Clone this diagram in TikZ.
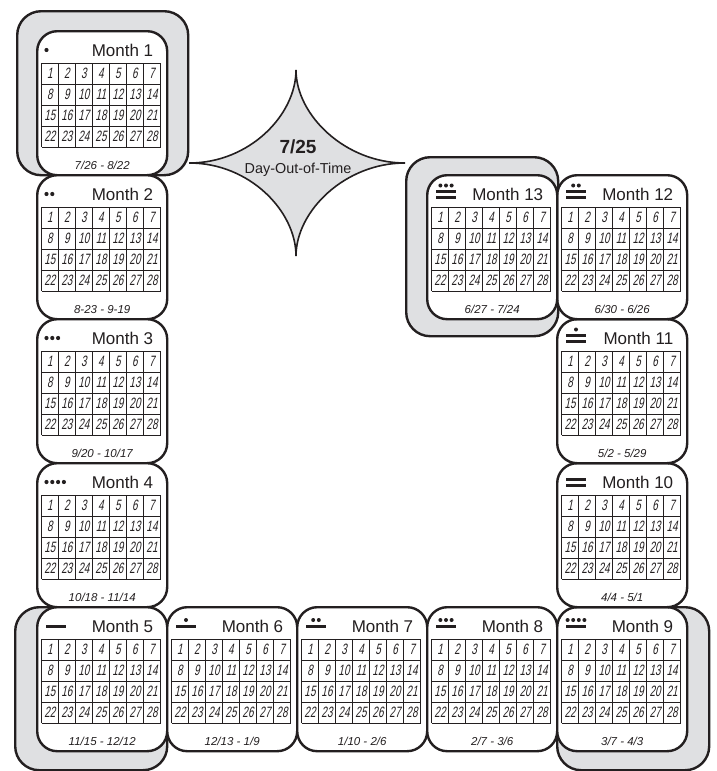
\documentclass[tikz,border=0pt]{standalone}
\usepackage{fontspec}
\setmainfont{Liberation Sans}
\newfontfamily\daynumfont[FakeStretch=0.66,FakeSlant=0.2]{Liberation Sans}
\usepackage{tikz}
\usetikzlibrary{calc}
\definecolor{calink}{HTML}{231F20}
\definecolor{calgray}{HTML}{DFE0E2}

\tikzset{
  card/.style={draw=calink, line width=2.4pt, rounded corners=20pt, fill=white,
               minimum width=130pt, minimum height=144pt, inner sep=0pt,
               anchor=north west},
  shadowbox/.style={draw=calink, line width=2.4pt, rounded corners=24pt,
                    fill=calgray, inner sep=0pt, anchor=north west},
  monthlabel/.style={font=\fontsize{17}{20}\selectfont, text=calink,
                     inner sep=0pt, anchor=base east},
  rangelabel/.style={font=\itshape\fontsize{11.5}{13}\selectfont, text=calink,
                     inner sep=0pt, anchor=base},
  daycell/.style={font=\daynumfont\fontsize{15}{16}\selectfont, text=calink,
                  inner sep=0pt},
  gridline/.style={draw=calink, line width=0.9pt},
  link/.style={draw=calink, line width=2pt},
  starshape/.style={draw=calink, line width=1.6pt, fill=calgray}
}

% Mayan numeral: node, bars, dots
\newcommand{\mayan}[3]{%
  \ifcase#2\relax
    \foreach \k in {1,...,#3}
      \fill[calink] ([shift={({10.5+5.8*(\k-1)},20)}]#1.north west) circle (2.1pt);
  \or
    \fill[calink] ([shift={(10,18.5)}]#1.north west) rectangle ++(20,3.2);
    \ifnum#3>0
      \foreach \k in {1,...,#3} {
        \pgfmathsetmacro{\dx}{20+5.6*(\k-(#3+1)/2)}
        \fill[calink] ([shift={(\dx,14)}]#1.north west) circle (2pt);
      }
    \fi
  \or
    \fill[calink] ([shift={(10,16)}]#1.north west) rectangle ++(20,3.2);
    \fill[calink] ([shift={(10,21.5)}]#1.north west) rectangle ++(20,3.2);
    \ifnum#3>0
      \foreach \k in {1,...,#3} {
        \pgfmathsetmacro{\dx}{20+5.6*(\k-(#3+1)/2)}
        \fill[calink] ([shift={(\dx,11.5)}]#1.north west) circle (2pt);
      }
    \fi
  \fi}

% card: name, x, y, month, dates, bars, dots
\newcommand{\monthcard}[7]{%
  \node[card] (#1) at (#2,#3) {};
  \node[monthlabel] (#1t) at ([shift={(-15,26)}]#1.north east) {Month #4};
  \foreach \c in {0,...,7}
    \draw[gridline] ([shift={({5.5+17*\c},33)}]#1.north west) -- ++(0,84);
  \foreach \r in {0,...,4}
    \draw[gridline] ([shift={(5.5,{33+21*\r})}]#1.north west) -- ++(119,0);
  \foreach \r in {0,...,3}
    \foreach \c in {1,...,7} {
      \pgfmathtruncatemacro{\dnum}{7*\r+\c}
      \node[daycell] at ([shift={({17*\c-3},{43.5+21*\r})}]#1.north west) {\dnum};
    }
  \node[rangelabel] (#1r) at ([shift={(0,-7)}]#1.south) {#5};
  \mayan{#1}{#6}{#7}}

\begin{document}
\begin{tikzpicture}[x=1pt, y=-1pt]
  \useasboundingbox (0,0) rectangle (717,771);

  % grey backings
  \node[shadowbox, minimum width=171pt, minimum height=164pt] (s1) at (16,10) {};
  \node[shadowbox, minimum width=152pt, minimum height=179pt] (s13) at (405,156) {};
  \node[shadowbox, minimum width=152pt, minimum height=163pt] (s5) at (14,606) {};
  \node[shadowbox, minimum width=152pt, minimum height=163pt] (s9) at (556,606) {};

  % day out of time
  \coordinate (dotc) at (296,163);
  \coordinate (startop) at (296,70);
  \coordinate (starbot) at (296,256);
  \coordinate (starleft) at (dotc -| s1.east);
  \coordinate (starright) at (dotc -| s13.west);
  \draw[link] (starleft) -- (starright);
  \draw[starshape] (starleft) .. controls +(60,0) and +(0,45) .. (startop)
    .. controls +(0,45) and +(-60,0) .. (starright)
    .. controls +(-60,0) and +(0,-45) .. (starbot)
    .. controls +(0,-45) and +(60,0) .. (starleft) -- cycle;
  \node[font=\bfseries\fontsize{19}{22}\selectfont, text=calink, anchor=base,
        inner sep=0pt] (dotdate) at (298,153) {7/25};
  \node[font=\fontsize{14.4}{16}\selectfont, text=calink, anchor=base,
        inner sep=0pt] (dotname) at (298,173) {Day-Out-of-Time};

  % months
  \monthcard{m1}{36}{30}{1}{7/26 - 8/22}{0}{1}
  \monthcard{m2}{36}{174}{2}{8-23 - 9-19}{0}{2}
  \monthcard{m3}{36}{318}{3}{9/20 - 10/17}{0}{3}
  \monthcard{m4}{36}{462}{4}{10/18 - 11/14}{0}{4}
  \monthcard{m5}{36}{606}{5}{11/15 - 12/12}{1}{0}
  \monthcard{m6}{166}{606}{6}{12/13 - 1/9}{1}{1}
  \monthcard{m7}{296}{606}{7}{1/10 - 2/6}{1}{2}
  \monthcard{m8}{426}{606}{8}{2/7 - 3/6}{1}{3}
  \monthcard{m9}{556}{606}{9}{3/7 - 4/3}{1}{4}
  \monthcard{m10}{556}{462}{10}{4/4 - 5/1}{2}{0}
  \monthcard{m11}{556}{318}{11}{5/2 - 5/29}{2}{1}
  \monthcard{m12}{556}{174}{12}{6/30 - 6/26}{2}{2}
  \monthcard{m13}{426}{174}{13}{6/27 - 7/24}{2}{3}
\end{tikzpicture}
\end{document}
